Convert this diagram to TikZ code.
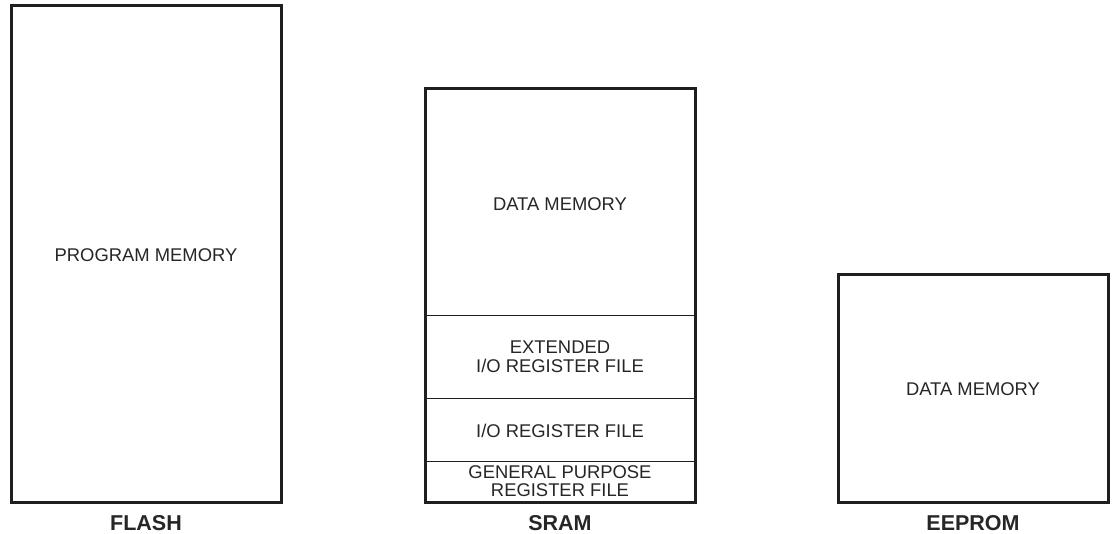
\documentclass[tikz,border=0pt]{standalone}
\usepackage{fontspec}
\setmainfont{Liberation Sans}

\tikzset{
  memtext/.style={font=\fontsize{18.4}{18.5}\selectfont, align=center, inner sep=0pt, text=black!85},
  memname/.style={font=\fontsize{21.5}{22}\selectfont\bfseries, inner sep=0pt, text=black!85},
  membox/.style={draw=black!88, line width=3pt},
  memline/.style={draw=black!88, line width=1pt}
}

\begin{document}
\begin{tikzpicture}[x=1pt, y=-1pt]
        \useasboundingbox (0,0) rectangle (1116,533);

        % flash
        \draw[membox] (11,5) rectangle (281,502);
        \node[memtext] (progmem) at (146,255) {PROGRAM MEMORY};
        \node[memname] (flash) at (146,523) {FLASH};

        % sram
        \draw[memline] (425,315) -- (695,315);
        \draw[memline] (425,398) -- (695,398);
        \draw[memline] (425,461) -- (695,461);
        \draw[membox] (425,88) rectangle (695,502);
        \node[memtext] (sramdata) at (560,204) {DATA MEMORY};
        \node[memtext] (extio) at (560,357) {EXTENDED\\I/O REGISTER FILE};
        \node[memtext] (iofile) at (560,431) {I/O REGISTER FILE};
        \node[memtext] (gpfile) at (560,481) {GENERAL PURPOSE\\REGISTER FILE};
        \node[memname] (sram) at (560,523) {SRAM};

        % eeprom
        \draw[membox] (838,274) rectangle (1108,502);
        \node[memtext] (eedata) at (973,389) {DATA MEMORY};
        \node[memname] (eeprom) at (973,523) {EEPROM};
    \end{tikzpicture}
\end{document}
